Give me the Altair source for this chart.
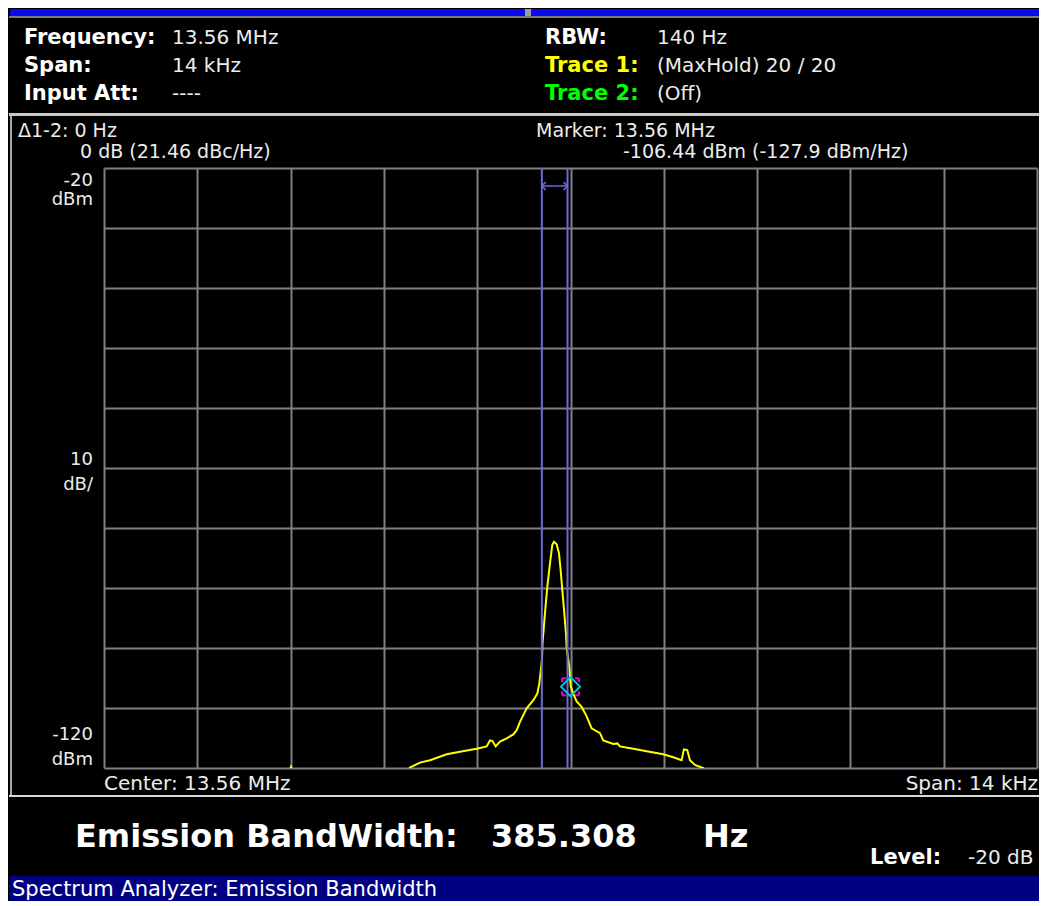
import altair as alt
import pandas as pd

# ---------------- data ----------------
trace_freq_hz = [-7000, -4300, -4194, -4090, -2500, -2408, -2258, -2108, -1858, -1658,
                 -1408, -1258, -1208, -1170, -1123, -1058, -958, -858, -808, -758,
                 -658, -558, -498, -468, -428, -420, -383, -348, -308, -273,
                 -248, -208, -173, -148, -123, -93, -68, -57, -18, -8,
                 3, 42, 92, 167, 242, 317, 442, 492, 642, 702,
                 742, 942, 1142, 1392, 1542, 1667, 1702, 1752, 1792, 1867,
                 1992, 2100, 7000]
trace_dbm = [-124, -123, -119.8, -123, -122, -119.9, -119.1, -118.7, -117.7, -117.3,
             -116.8, -116.4, -115.4, -115.5, -116.4, -115.6, -115.05, -114.4, -113.7, -112.3,
             -110.05, -108.7, -107.6, -105.9, -102.0, -99.2, -94.2, -89.8, -85.9, -82.8,
             -82.3, -82.7, -84.2, -87.0, -90.3, -94.2, -97.6, -100.1, -103.1, -104.8,
             -106.4, -107.6, -108.9, -109.8, -111.4, -113.4, -114.2, -115.4, -116.0, -115.9,
             -116.4, -116.8, -117.2, -117.7, -118.2, -118.7, -116.9, -117.0, -118.7, -119.5,
             -120.0, -122, -124]

ebw_lo_hz = [-430]
ebw_hi_hz = [-45]
marker_freq_hz = [0]
marker_dbm = [-106.44]

x_grid = [-7000 + 1400 * i for i in range(11)]
y_grid = [-120 + 10 * i for i in range(11)]

header_left_labels = ["Frequency:", "Span:", "Input Att:"]
header_left_values = ["13.56 MHz", "14 kHz", "----"]
header_right_labels = ["RBW:", "Trace 1:", "Trace 2:"]
header_right_values = ["140 Hz", "(MaxHold)  20 / 20", "(Off)"]
delta_texts = ["\u03941-2: 0 Hz", "0 dB (21.46 dBc/Hz)"]
marker_texts = ["Marker: 13.56 MHz", "-106.44 dBm (-127.9 dBm/Hz)"]
y_labels = ["-20", "dBm", "10", "dB/", "-120", "dBm"]
footer_texts = ["Center: 13.56 MHz", "Span: 14 kHz"]
result_texts = ["Emission BandWidth:", "385.308", "Hz"]
level_texts = ["Level:", "-20 dB"]
status_text = "Spectrum Analyzer: Emission Bandwidth"

# ---------------- layout helpers ----------------
OX, OY = 104, 168          # page position of plot origin
W, H = 933, 600
RIGHT = 1039               # right edge of the drawing on the page
FONT = "DejaVu Sans"
TXT = "#ececec"


def label(text, x, y, size=20, color=TXT, weight="normal", align="left"):
    return alt.Chart(alt.Data(values=[{"t": text}])).mark_text(
        align=align, baseline="alphabetic", fontSize=size, fontWeight=weight,
        color=color, font=FONT
    ).encode(x=alt.value(x - OX), y=alt.value(y - OY), text="t:N")


def box(x1, y1, x2, y2, color):
    return alt.Chart(alt.Data(values=[{"a": 1}])).mark_rect(color=color).encode(
        x=alt.value(x1 - OX), x2=alt.value(x2 - OX),
        y=alt.value(y1 - OY), y2=alt.value(y2 - OY))


xscale = alt.Scale(domain=[-7000, 7000], nice=False, zero=False)
yscale = alt.Scale(domain=[-120, -20], nice=False, zero=False)
grid_axis = dict(grid=True, labels=False, ticks=False, domain=False, title=None,
                 gridColor="#808080", gridWidth=2, gridOpacity=1)
X_AX = alt.Axis(values=x_grid, **grid_axis)
Y_AX = alt.Axis(values=y_grid, **grid_axis)


def xf(field):
    return alt.X(field, scale=xscale, axis=X_AX)


def yf(field):
    return alt.Y(field, scale=yscale, axis=Y_AX)


layers = []
# frame pieces
layers += [
    box(10, 9, 525, 16, "#0a0af0"),
    box(531, 9, RIGHT, 16, "#0a0af0"),
    box(525, 9, 531, 17, "#9a9a9a"),
    box(9, 16, RIGHT, 18, "#7a7a7a"),
    box(9, 113, RIGHT, 116, "#c8c8c8"),
    box(10, 116, 12, 796, "#a8a8a8"),
    box(9, 795, RIGHT, 797, "#d8d8d8"),
    box(9, 876, RIGHT, 906, "#000080"),
]

# spectrum trace with grid
df = pd.DataFrame({"freq": trace_freq_hz, "level": trace_dbm})
layers.append(alt.Chart(df).mark_line(color="#ffff00", strokeWidth=2, clip=True).encode(
    x=xf("freq:Q"), y=yf("level:Q")))

ebw = pd.DataFrame({"lo": ebw_lo_hz, "hi": ebw_hi_hz})
MC = "#6a6ad8"
layers.append(alt.Chart(ebw).mark_rule(color=MC, strokeWidth=2).encode(
    x=xf("lo:Q"), y=alt.value(0), y2=alt.value(H)))
layers.append(alt.Chart(ebw).mark_rule(color=MC, strokeWidth=2).encode(
    x=xf("hi:Q"), y=alt.value(0), y2=alt.value(H)))
layers.append(alt.Chart(ebw).mark_rule(color=MC, strokeWidth=1.5).encode(
    x=xf("lo:Q"), x2="hi:Q", y=alt.value(18)))
layers.append(alt.Chart(ebw).mark_point(
    shape="M1,-1L0,0L1,1", size=60, filled=False, color=MC, strokeWidth=1.5, opacity=1
).encode(x=xf("lo:Q"), y=alt.value(18)))
layers.append(alt.Chart(ebw).mark_point(
    shape="M-1,-1L0,0L-1,1", size=60, filled=False, color=MC, strokeWidth=1.5, opacity=1
).encode(x=xf("hi:Q"), y=alt.value(18)))

mk = pd.DataFrame({"freq": marker_freq_hz, "level": marker_dbm})
layers.append(alt.Chart(mk).mark_point(
    shape="square", size=289, filled=False, color="#e000e0", strokeWidth=2,
    strokeDash=[4, 9, 4, 0], opacity=1
).encode(x=xf("freq:Q"), y=yf("level:Q")))
layers.append(alt.Chart(mk).mark_point(
    shape="diamond", size=361, filled=False, color="#00c8d8", strokeWidth=2, opacity=1
).encode(x=xf("freq:Q"), y=yf("level:Q")))

# header texts
rows = [44, 72, 100]
for t, y in zip(header_left_labels, rows):
    layers.append(label(t, 24, y, size=21, color="white", weight="bold"))
for t, y in zip(header_left_values, rows):
    layers.append(label(t, 172, y, size=20))
right_colors = ["white", "#ffff00", "#00ff00"]
for t, y, c in zip(header_right_labels, rows, right_colors):
    layers.append(label(t, 545, y, size=21, color=c, weight="bold"))
for t, y in zip(header_right_values, rows):
    layers.append(label(t, 657, y, size=20))

# marker readouts
layers.append(label(delta_texts[0], 18, 137, size=19))
layers.append(label(delta_texts[1], 80, 158, size=19))
layers.append(label(marker_texts[0], 536, 137, size=19))
layers.append(label(marker_texts[1], 623, 158, size=19))

# y-axis annotations
for t, y in zip(y_labels, [186, 205, 465, 490, 740, 765]):
    layers.append(label(t, 93, y, size=18, align="right"))

layers.append(label(footer_texts[0], 104, 790))
layers.append(label(footer_texts[1], RIGHT - 1, 790, align="right"))

# result line
for t, x in zip(result_texts, [75, 491, 703]):
    layers.append(label(t, x, 847, size=32, color="white", weight="bold"))
layers.append(label(level_texts[0], 870, 864, size=21, color="white", weight="bold"))
layers.append(label(level_texts[1], 968, 864, size=20))
layers.append(label(status_text, 12, 896, size=21, color="white"))

SVG_W = RIGHT - 8
SVG_H = 893
chart = alt.layer(*layers).properties(
    width=W, height=H,
    autosize=alt.AutoSizeParams(type="none"),
    padding={"left": OX - 8, "top": OY - 8,
             "right": SVG_W - (OX - 8) - W, "bottom": SVG_H - (OY - 8) - H},
    background="black",
).configure_view(stroke=None)

chart.save("out.html", embed_options={"renderer": "svg", "actions": False})
